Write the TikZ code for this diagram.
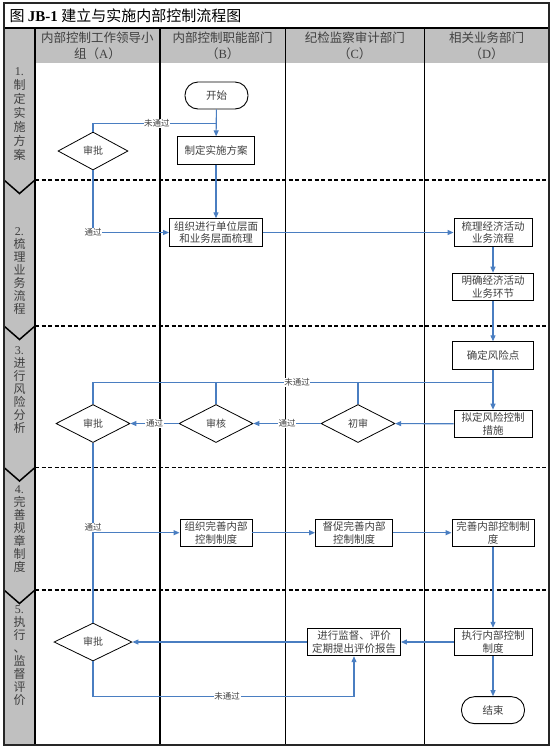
\documentclass[tikz,border=0pt]{standalone}
\usepackage{fontspec}
\setmainfont{Noto Sans CJK SC}
\newfontfamily\latin{Liberation Serif}
\usetikzlibrary{arrows.meta,positioning,shapes.geometric}

\definecolor{flowblue}{RGB}{74,126,193}
\definecolor{lanegray}{RGB}{192,192,192}
\definecolor{txtgray}{RGB}{64,64,64}

\begin{document}
\begin{tikzpicture}[
    x=1pt, y=-1pt,
    proc/.style={rectangle, draw=black, line width=0.9pt, fill=white, align=center, minimum height=27.5pt, inner sep=2pt, text=txtgray, font=\fontsize{10.5}{12.7}\selectfont},
    decide/.style={diamond, draw=black, line width=0.8pt, fill=white, minimum width=74pt, minimum height=38pt, inner sep=0pt, text=txtgray, font=\fontsize{10}{12}\selectfont},
    term/.style={rectangle, rounded corners=13pt, draw=black, line width=0.9pt, fill=white, minimum width=63pt, minimum height=27pt, text=txtgray, font=\fontsize{10.5}{12}\selectfont},
    lane/.style={align=center, text=txtgray, font=\fontsize{12.5}{16}\selectfont},
    phase/.style={align=center, text=txtgray, font=\fontsize{12}{13}\selectfont},
    lbl/.style={fill=white, inner sep=0.6pt, text=txtgray, font=\fontsize{8.5}{9}\selectfont},
    flow/.style={draw=flowblue, line width=1.1pt, -{Triangle[length=6pt, width=5pt]}},
    link/.style={draw=flowblue, line width=1.1pt},
    sep/.style={line width=1.5pt, dash pattern=on 4pt off 2.5pt},
]
    \useasboundingbox (0,0) rectangle (554,748);

    % frame, lanes, phases
    \fill[lanegray] (4,28) rectangle (549,63);
    \fill[lanegray] (4,63) rectangle (35,745);
    \foreach \y in {180,326,467.5,590} {
        \draw[sep] (35,\y) -- (549,\y);
        \draw[line width=1.5pt] (4,\y) -- (19.5,{\y+13.5}) -- (35,\y);
    }
    \foreach \x in {35,160,285.3,424.3}
        \draw[line width=1.2pt] (\x,28) -- (\x,745);
    \draw[line width=1.2pt] (4,28) -- (549,28);
    \draw[line width=1.8pt, black!85] (4,3) rectangle (549,745);

    \node[anchor=west, font=\fontsize{15}{18}\selectfont] (title) at (6,15.5) {图 {\latin\bfseries JB-1} 建立与实施内部控制流程图};
    \node[lane] (laneA) at (97.5,45.5) {内部控制工作领导小\\组（{\latin A}）};
    \node[lane] (laneB) at (222.7,45.5) {内部控制职能部门\\（{\latin B}）};
    \node[lane] (laneC) at (354.8,45.5) {纪检监察审计部门\\（{\latin C}）};
    \node[lane] (laneD) at (486.7,45.5) {相关业务部门\\（{\latin D}）};

    \node[phase, font=\fontsize{12}{14}\selectfont] (p1) at (19.5,114) {{\latin 1.}\\制\\定\\实\\施\\方\\案};
    \node[phase] (p2) at (19.5,271) {{\latin 2.}\\梳\\理\\业\\务\\流\\程};
    \node[phase] (p3) at (19.5,390) {{\latin 3.}\\进\\行\\风\\险\\分\\析};
    \node[phase] (p4) at (19.5,529.5) {{\latin 4.}\\完\\善\\规\\章\\制\\度};
    \node[phase] (p5) at (19.5,655.5) {{\latin 5.}\\执\\行\\、\\监\\督\\评\\价};

    % steps
    \node[term] (start) at (216.5,95.5) {开始};
    \node[proc, minimum width=77pt] (plan) at (216,150.5) {制定实施方案};
    \node[decide, minimum width=70pt] (a1) at (93,151) {审批};
    \node[proc, minimum width=93pt] (org1) at (216,232.5) {组织进行单位层面\\和业务层面梳理};
    \node[proc, minimum width=78pt] (sort1) at (493,232.5) {梳理经济活动\\业务流程};
    \node[proc, minimum width=81pt, below=26pt of sort1] (clear1) {明确经济活动\\业务环节};
    \node[proc, minimum width=81pt] (risk) at (493,355.5) {确定风险点};
    \node[proc, minimum width=78pt, below=40pt of risk] (plan2) {拟定风险控制\\措施};
    \node[decide] (c3) at (358,423.5) {初审};
    \node[decide] (b3) at (216,423.5) {审核};
    \node[decide] (a3) at (93,423.5) {审批};
    \node[proc, minimum width=72pt] (org2) at (216,532.7) {组织完善内部\\控制制度};
    \node[proc, minimum width=77pt] (sup) at (354,532.7) {督促完善内部\\控制制度};
    \node[proc, minimum width=82pt] (perf) at (493,532.7) {完善内部控制制\\度};
    \node[proc, minimum width=78pt] (exec) at (493,642) {执行内部控制\\制度};
    \node[proc, minimum width=93pt] (eval) at (354,642) {进行监督、评价\\定期提出评价报告};
    \node[decide, minimum width=78pt] (a5) at (93,642) {审批};
    \node[term, below=40pt of exec] (stop) {结束};

    \coordinate (loop1) at (216,123.3);
    \coordinate (loop3) at (493,382.7);
    \coordinate (loop5) at (354,696.7);

    % connectors
    \draw[flow] (start) -- (plan);
    \draw[link] (a1.north) |- node[lbl, pos=0.76] {未通过} (loop1);
    \draw[flow] (plan) -- (org1);
    \draw[flow] (a1.south) |- node[lbl] {通过} (org1.west);
    \draw[flow] (org1) -- (sort1);
    \draw[flow] (sort1) -- (clear1);
    \draw[flow] (clear1) -- (risk);
    \draw[flow] (risk) -- (plan2);
    \draw[flow] (plan2) -- (c3);
    \draw[flow] (c3) -- node[lbl] {通过} (b3);
    \draw[flow] (b3) -- node[lbl] {通过} (a3);
    \draw[link] (a3.north) |- node[lbl, pos=0.755] {未通过} (loop3);
    \draw[link] (b3.north) -- (b3.north |- loop3);
    \draw[link] (c3.north) -- (c3.north |- loop3);
    \draw[link] (a3.south) -- (a5.north);
    \draw[flow] (a3.south |- org2.west) -- (org2.west);
    \node[lbl, above=1pt] (pass4) at (a3.south |- org2.west) {通过};
    \draw[flow] (org2) -- (sup);
    \draw[flow] (sup) -- (perf);
    \draw[flow] (perf) -- (exec);
    \draw[flow] (exec) -- (eval);
    \draw[flow] (eval) -- (a5);
    \draw[flow] (a5.south) |- node[lbl, pos=0.757] {未通过} (loop5) -- (eval.south);
    \draw[flow] (exec) -- (stop);
\end{tikzpicture}
\end{document}
